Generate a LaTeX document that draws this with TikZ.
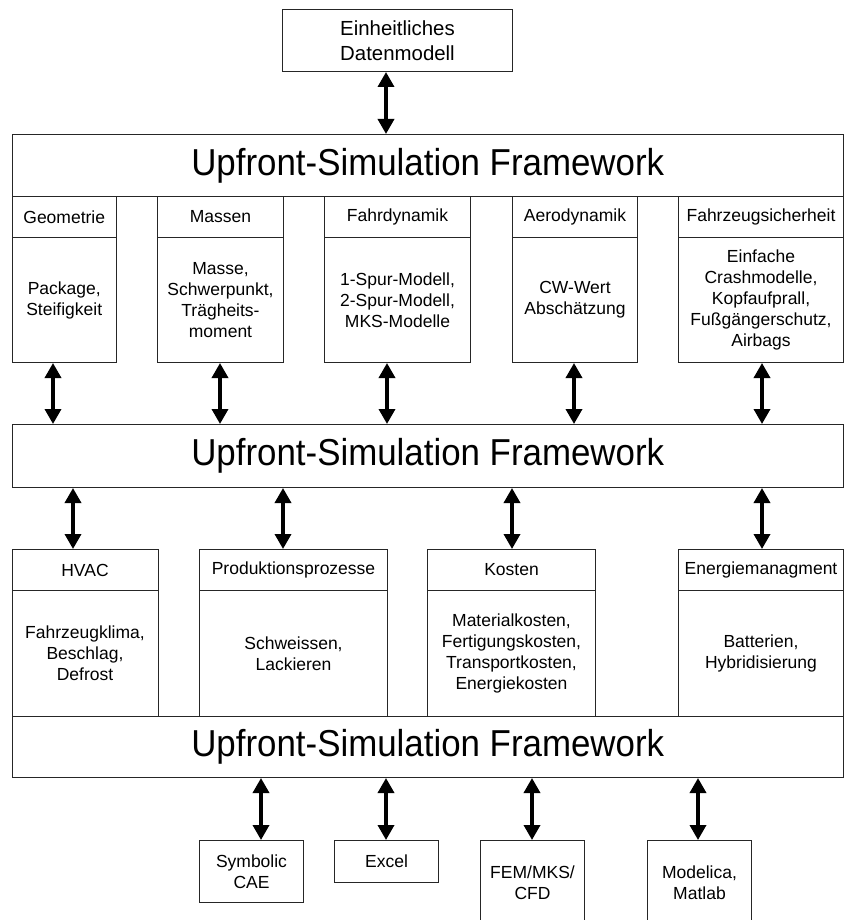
\documentclass[tikz,border=0pt]{standalone}
\usepackage{fontspec}
\setmainfont{Liberation Sans}
\newfontfamily\bigfont[FakeStretch=0.93]{Liberation Sans}
\usetikzlibrary{arrows.meta}
\begin{document}
\begin{tikzpicture}[x=1pt,y=-1pt,
  box/.style={draw=black!85, line width=1pt, inner sep=0pt, align=center, anchor=north west, font=\fontsize{17.5}{21}\selectfont},
  fw/.style={box, minimum width=831.5pt, font=\bigfont\fontsize{37.5}{45}\selectfont},
  dbl/.style={line width=3.5pt, {Triangle[width=16pt,length=15pt]}-{Triangle[width=16pt,length=15pt]}}]
\useasboundingbox (0,0) rectangle (844,920);
\clip (0,0) rectangle (844,920);

% top
\node[box, minimum width=230pt, minimum height=62pt, font=\fontsize{20.4}{25}\selectfont] (dm) at (282,9) {Einheitliches\\Datenmodell};

% frameworks
\node[fw, minimum height=62pt] (fw1) at (11.5,134) {Upfront-Simulation Framework};
\node[fw, minimum height=63pt] (fw2) at (11.5,424) {Upfront-Simulation Framework};
\node[fw, minimum height=61pt] (fw3) at (11.5,716) {Upfront-Simulation Framework};

% row 1
\node[box, minimum width=104.5pt, minimum height=41pt] (h11) at (11.5,196) {Geometrie};
\node[box, minimum width=104.5pt, minimum height=125pt] (b11) at (11.5,237) {Package,\\Steifigkeit};
\node[box, minimum width=126pt, minimum height=41pt] (h12) at (157,196) {Massen};
\node[box, minimum width=126pt, minimum height=125pt] (b12) at (157,237) {Masse,\\Schwerpunkt,\\Trägheits-\\moment};
\node[box, minimum width=146pt, minimum height=41pt] (h13) at (324,196) {Fahrdynamik};
\node[box, minimum width=146pt, minimum height=125pt] (b13) at (324,237) {1-Spur-Modell,\\2-Spur-Modell,\\MKS-Modelle};
\node[box, minimum width=125pt, minimum height=41pt] (h14) at (512,196) {Aerodynamik};
\node[box, minimum width=125pt, minimum height=125pt] (b14) at (512,237) {CW-Wert\\Abschätzung};
\node[box, minimum width=165pt, minimum height=41pt] (h15) at (678,196) {Fahrzeugsicherheit};
\node[box, minimum width=165pt, minimum height=125pt] (b15) at (678,237) {Einfache\\Crashmodelle,\\Kopfaufprall,\\Fußgängerschutz,\\Airbags};

% row 2
\node[box, minimum width=146pt, minimum height=41pt] (h21) at (11.5,549) {HVAC};
\node[box, minimum width=146pt, minimum height=126pt] (b21) at (11.5,590) {Fahrzeugklima,\\Beschlag,\\Defrost};
\node[box, minimum width=188pt, minimum height=41pt] (h22) at (199,549) {Produktionsprozesse};
\node[box, minimum width=188pt, minimum height=126pt] (b22) at (199,590) {Schweissen,\\Lackieren};
\node[box, minimum width=168pt, minimum height=41pt] (h23) at (427,549) {Kosten};
\node[box, minimum width=168pt, minimum height=126pt] (b23) at (427,590) {Materialkosten,\\Fertigungskosten,\\Transportkosten,\\Energiekosten};
\node[box, minimum width=165pt, minimum height=41pt] (h24) at (678,549) {Energiemanagment};
\node[box, minimum width=165pt, minimum height=126pt] (b24) at (678,590) {Batterien,\\Hybridisierung};

% bottom tools
\node[box, minimum width=104pt, minimum height=62pt] (t1) at (199,840) {Symbolic\\CAE};
\node[box, minimum width=104pt, minimum height=42pt] (t2) at (334,840) {Excel};
\node[box, minimum width=104pt, minimum height=85pt] (t3) at (480,840) {FEM/MKS/\\CFD};
\node[box, minimum width=104pt, minimum height=85pt] (t4) at (647,840) {Modelica,\\Matlab};

% arrow columns
\coordinate (c0) at (386,0);
\coordinate (c11) at (53,0);
\coordinate (c12) at (220,0);
\coordinate (c13) at (387,0);
\coordinate (c14) at (574,0);
\coordinate (c15) at (762,0);
\coordinate (c21) at (73,0);
\coordinate (c22) at (283,0);
\coordinate (c23) at (512,0);
\coordinate (c24) at (762,0);
\coordinate (c31) at (261,0);
\coordinate (c32) at (386,0);
\coordinate (c33) at (532,0);
\coordinate (c34) at (698,0);

\draw[dbl] (dm.south -| c0) -- (fw1.north -| c0);

\draw[dbl] (b11.south -| c11) -- (fw2.north -| c11);
\draw[dbl] (b12.south -| c12) -- (fw2.north -| c12);
\draw[dbl] (b13.south -| c13) -- (fw2.north -| c13);
\draw[dbl] (b14.south -| c14) -- (fw2.north -| c14);
\draw[dbl] (b15.south -| c15) -- (fw2.north -| c15);

\draw[dbl] (fw2.south -| c21) -- (h21.north -| c21);
\draw[dbl] (fw2.south -| c22) -- (h22.north -| c22);
\draw[dbl] (fw2.south -| c23) -- (h23.north -| c23);
\draw[dbl] (fw2.south -| c24) -- (h24.north -| c24);

\draw[dbl] (fw3.south -| c31) -- (t1.north -| c31);
\draw[dbl] (fw3.south -| c32) -- (t2.north -| c32);
\draw[dbl] (fw3.south -| c33) -- (t3.north -| c33);
\draw[dbl] (fw3.south -| c34) -- (t4.north -| c34);
\end{tikzpicture}
\end{document}
